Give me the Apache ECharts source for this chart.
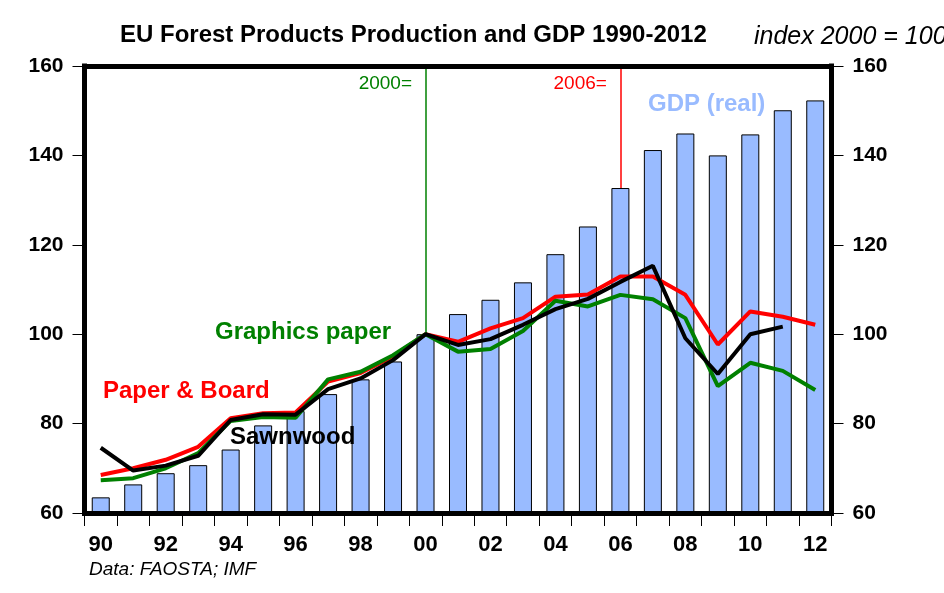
<!DOCTYPE html>
<html>
<head>
<meta charset="utf-8">
<script src="https://cdn.jsdelivr.net/npm/echarts@6/dist/echarts.min.js"></script>
<style>
html,body{margin:0;padding:0;background:#fff;}
#chart{width:944px;height:593px;}
</style>
</head>
<body>
<div id="chart"></div>
<script>
const years = ['1990','1991','1992','1993','1994','1995','1996','1997','1998','1999','2000','2001','2002','2003','2004','2005','2006','2007','2008','2009','2010','2011','2012'];
const gdpReal = [63.5, 66.4, 68.9, 70.7, 74.2, 79.6, 82.8, 86.6, 89.9, 93.9, 100, 104.5, 107.7, 111.6, 117.9, 124.1, 132.7, 141.2, 144.9, 140.0, 144.7, 150.1, 152.3];
const paperBoard = [68.5, 70.0, 71.9, 74.8, 81.2, 82.3, 82.5, 89.4, 91.3, 95.0, 100, 98.3, 101.3, 103.6, 108.4, 108.9, 112.9, 112.9, 108.8, 97.7, 105.1, 103.9, 102.1];
const graphicsPaper = [67.3, 67.8, 70.0, 73.4, 80.6, 81.5, 81.3, 89.9, 91.6, 95.3, 100, 96.1, 96.7, 100.7, 107.5, 106.2, 108.8, 107.8, 103.6, 88.4, 93.6, 91.8, 87.5];
const sawnwood = [74.6, 69.5, 70.6, 72.8, 80.8, 82.1, 82.0, 87.7, 90.1, 94.2, 100, 97.6, 98.9, 102.1, 105.6, 107.9, 111.7, 115.3, 99.1, 91.1, 100.0, 101.7, null];
const yTicks = {min: 60, max: 160, interval: 20};

const FF = '"Liberation Sans", Arial, sans-serif';
const chart = echarts.init(document.getElementById('chart'), null, {renderer: 'canvas'});

const frameLine = {show: true, lineStyle: {color: '#000', width: 5, cap: 'square'}};
const yAxisBase = {
  type: 'value', min: yTicks.min, max: yTicks.max, interval: yTicks.interval,
  axisLine: frameLine,
  axisTick: {show: true, length: 12, lineStyle: {color: '#000', width: 1}},
  axisLabel: {margin: 21, fontFamily: FF, fontSize: 21, fontWeight: 'bold', color: '#000'},
  splitLine: {show: false},
  z: 10
};

const option = {
  animation: false,
  backgroundColor: '#fff',
  title: {
    text: 'EU Forest Products Production and GDP 1990-2012',
    left: 115, top: 18,
    textStyle: {fontFamily: FF, fontWeight: 'bold', fontSize: 24, color: '#000'}
  },
  grid: {left: 84.5, right: 112.5, top: 66, bottom: 80},
  xAxis: [
    {
      type: 'category', data: years, position: 'bottom', boundaryGap: true,
      axisLine: frameLine,
      axisTick: {show: true, interval: 0, length: 13, lineStyle: {color: '#000', width: 1}},
      axisLabel: {interval: 1, margin: 21, formatter: v => v.slice(2), fontFamily: FF, fontSize: 22, fontWeight: 'bold', color: '#000'},
      splitLine: {show: false},
      z: 10
    },
    {
      type: 'category', data: years, position: 'top', boundaryGap: true,
      axisLine: frameLine, axisTick: {show: false}, axisLabel: {show: false}, splitLine: {show: false},
      z: 10
    }
  ],
  yAxis: [
    Object.assign({}, yAxisBase, {position: 'left'}),
    Object.assign({}, yAxisBase, {position: 'right'})
  ],
  series: [
    {
      name: 'GDP (real)', type: 'bar', data: gdpReal, barWidth: 18,
      itemStyle: {color: '#99bbff', borderColor: '#000', borderWidth: 1},
      markLine: {
        silent: true, symbol: 'none', label: {show: false},
        data: [
          [{coord: ['2000', 160], lineStyle: {color: '#008000', width: 1.5, type: 'solid'}}, {coord: ['2000', 100]}],
          [{coord: ['2006', 160], lineStyle: {color: '#ff0000', width: 1.5, type: 'solid'}}, {coord: ['2006', 132.7]}]
        ]
      },
      markPoint: {
        silent: true, symbol: 'rect', symbolSize: 1,
        itemStyle: {color: 'rgba(0,0,0,0)'},
        data: [
          {coord: ['2000', 156], label: {show: true, position: 'left', distance: 13, formatter: '2000=', color: '#008000', fontFamily: FF, fontSize: 19}},
          {coord: ['2006', 156], label: {show: true, position: 'left', distance: 13, formatter: '2006=', color: '#ff0000', fontFamily: FF, fontSize: 19}}
        ]
      }
    },
    {name: 'Paper & Board', type: 'line', data: paperBoard, symbol: 'none', lineStyle: {color: '#ff0000', width: 4}, z: 3},
    {name: 'Graphics paper', type: 'line', data: graphicsPaper, symbol: 'none', lineStyle: {color: '#008000', width: 4}, z: 4},
    {name: 'Sawnwood', type: 'line', data: sawnwood, symbol: 'none', lineStyle: {color: '#000', width: 4}, z: 5}
  ],
  graphic: [
    {type: 'text', z: 100, left: 754, top: 25, style: {text: 'index 2000 = 100', fontFamily: FF, fontStyle: 'italic', fontSize: 25, fill: '#000'}},
    {type: 'text', z: 100, left: 648, top: 92, style: {text: 'GDP (real)', fontFamily: FF, fontWeight: 'bold', fontSize: 24, fill: '#99bbff'}},
    {type: 'text', z: 100, left: 215, top: 320, style: {text: 'Graphics paper', fontFamily: FF, fontWeight: 'bold', fontSize: 24, fill: '#008000'}},
    {type: 'text', z: 100, left: 103, top: 379, style: {text: 'Paper & Board', fontFamily: FF, fontWeight: 'bold', fontSize: 24, fill: '#ff0000'}},
    {type: 'text', z: 100, left: 230, top: 425, style: {text: 'Sawnwood', fontFamily: FF, fontWeight: 'bold', fontSize: 24, fill: '#000'}},
    {type: 'text', z: 100, left: 89, top: 560, style: {text: 'Data: FAOSTA; IMF', fontFamily: FF, fontStyle: 'italic', fontSize: 19, fill: '#000'}}
  ]
};
chart.setOption(option);
</script>
</body>
</html>
